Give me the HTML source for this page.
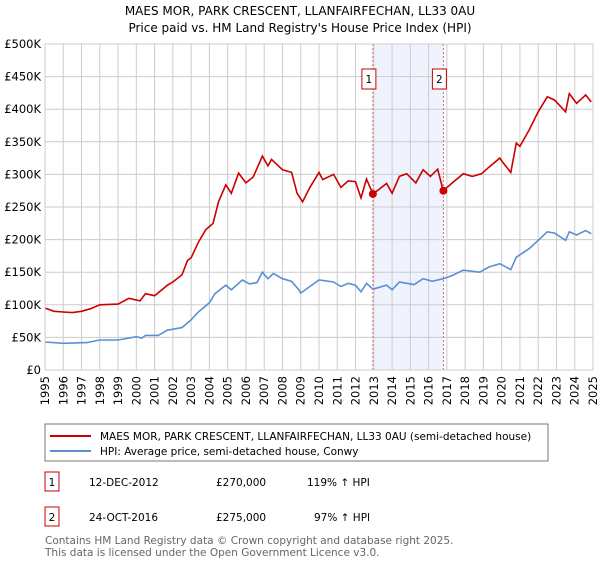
<!DOCTYPE html>
<html><head><meta charset="utf-8"><style>
body{margin:0;background:#fff;font-family:"Liberation Sans","DejaVu Sans",sans-serif;}
svg text{font-family:"DejaVu Sans","Liberation Sans",sans-serif;}
</style></head><body>
<svg id="c" width="600" height="560" xmlns="http://www.w3.org/2000/svg">
<text x="300" y="15" text-anchor="middle" font-size="12">MAES MOR, PARK CRESCENT, LLANFAIRFECHAN, LL33 0AU</text>
<text x="300" y="32" text-anchor="middle" font-size="12">Price paid vs. HM Land Registry's House Price Index (HPI)</text>
<g id="grid"></g><g id="marks"></g>
<rect x="45" y="424" width="503" height="37" fill="#fff" stroke="#777"/>
<line x1="50" y1="436" x2="91" y2="436" stroke="#cc0000" stroke-width="2"/>
<text x="100" y="440" font-size="10.5">MAES MOR, PARK CRESCENT, LLANFAIRFECHAN, LL33 0AU (semi-detached house)</text>
<line x1="50" y1="451" x2="91" y2="451" stroke="#5b8fd4" stroke-width="2"/>
<text x="100" y="455" font-size="10.5">HPI: Average price, semi-detached house, Conwy</text>
<g font-size="10.5">
<rect x="45" y="472" width="14" height="19" fill="#fff" stroke="#cc0000"/>
<text x="52" y="486" text-anchor="middle">1</text>
<text x="89" y="486">12-DEC-2012</text><text x="216" y="486">£270,000</text><text x="307" y="486">119% ↑ HPI</text>
<rect x="45" y="507" width="14" height="19" fill="#fff" stroke="#cc0000"/>
<text x="52" y="521" text-anchor="middle">2</text>
<text x="89" y="521">24-OCT-2016</text><text x="216" y="521">£275,000</text><text x="314" y="521">97% ↑ HPI</text>
</g>
<text x="45" y="544" font-size="10.5" fill="#666">Contains HM Land Registry data © Crown copyright and database right 2025.</text>
<text x="45" y="556" font-size="10.5" fill="#666">This data is licensed under the Open Government Licence v3.0.</text>
</svg>
<script>
const yTicks=[0,50,100,150,200,250,300,350,400,450,500];
const yLabels=["£0","£50K","£100K","£150K","£200K","£250K","£300K","£350K","£400K","£450K","£500K"];
const years=[1995,1996,1997,1998,1999,2000,2001,2002,2003,2004,2005,2006,2007,2008,2009,2010,2011,2012,2013,2014,2015,2016,2017,2018,2019,2020,2021,2022,2023,2024,2025];
const redT=[1995,1995.5,1996,1996.5,1997,1997.5,1998,1999,1999.6,2000.2,2000.5,2001,2001.7,2002,2002.5,2002.8,2003,2003.4,2003.8,2004.2,2004.5,2004.9,2005.2,2005.6,2006,2006.4,2006.9,2007.2,2007.4,2008,2008.5,2008.8,2009.1,2009.5,2010,2010.2,2010.8,2011.2,2011.6,2012,2012.3,2012.6,2012.95,2013.7,2014,2014.4,2014.8,2015.3,2015.7,2016.1,2016.5,2016.8,2017.3,2017.9,2018.4,2018.9,2019.3,2019.9,2020.1,2020.5,2020.8,2021,2021.5,2022,2022.5,2022.9,2023.5,2023.7,2024.1,2024.6,2024.9];
const redV=[95,90,89,88,90,94,100,101,110,106,117,114,130,135,146,168,172,196,215,225,258,284,271,302,287,296,328,313,323,307,303,271,258,280,303,292,300,280,290,289,264,293,270,286,271,297,301,287,307,297,308,275,287,301,297,301,311,325,317,303,348,343,368,396,419,414,396,424,409,422,411];
const blueT=[1995,1996,1997.3,1998,1999,2000,2000.3,2000.5,2001.2,2001.7,2002.5,2003,2003.4,2004,2004.3,2004.9,2005.2,2005.8,2006.2,2006.6,2006.9,2007.2,2007.5,2008,2008.5,2008.9,2009,2009.5,2010,2010.8,2011.2,2011.6,2012,2012.3,2012.6,2012.95,2013.7,2014,2014.4,2015.2,2015.7,2016.2,2016.8,2017.3,2017.9,2018.8,2019.3,2019.9,2020.5,2020.8,2021.5,2022,2022.5,2022.9,2023.5,2023.7,2024.1,2024.6,2024.9];
const blueV=[43,41,42,46,46,51,49,53,53,61,65,77,89,103,117,130,123,138,132,134,150,140,148,140,136,123,118,128,138,135,128,133,130,120,133,124,130,123,135,131,140,136,140,145,153,150,158,163,154,173,186,199,212,210,199,212,207,214,209];
const saleT=[2012.95,2016.81];
const saleV=[270,275];
const saleLabels=["1","2"];
const X0=45,X1=593,Y0=370,Y1=44;
const xs=t=>X0+(t-1995)/(2025-1995)*(X1-X0);
const ys=v=>Y0-v/500*(Y0-Y1);
const NS="http://www.w3.org/2000/svg";
const grid=document.getElementById('grid'),marks=document.getElementById('marks');
function mk(p,tag,a){const e=document.createElementNS(NS,tag);for(const k in a)e.setAttribute(k,a[k]);p.appendChild(e);return e;}
const sh=mk(grid,'rect',{x:xs(saleT[0]),y:Y1,width:xs(saleT[1])-xs(saleT[0]),height:Y0-Y1,fill:'#eef3fd'});


yTicks.forEach((v,i)=>{
 const l=mk(grid,'line',{x1:X0,x2:X1,y1:ys(v),y2:ys(v),stroke:'#ccc'});
 
 
 const t=mk(grid,'text',{x:X0-4,y:ys(v)+4,'text-anchor':'end','font-size':'11.5'});
 t.textContent=yLabels[i];
 
 
});
years.forEach(y=>{
 const l=mk(grid,'line',{x1:xs(y),x2:xs(y),y1:Y1,y2:Y0,stroke:'#ccc'});
 
 
 const t=mk(grid,'text',{x:0,y:0,'font-size':'11.5','text-anchor':'end',transform:`translate(${xs(y)+4},${Y0+6}) rotate(-90)`});
 t.textContent=y;
 
 
});
function line(T,V,c,n){const d=T.map((t,i)=>(i?'L':'M')+xs(t).toFixed(1)+','+ys(V[i]).toFixed(1)).join('');
 const p=mk(marks,'path',{d:d,fill:'none',stroke:c,'stroke-width':1.6});
 
 }
line(blueT,blueV,'#5b8fd4','hpi-line');
line(redT,redV,'#cc0000','property-price-line');
saleT.forEach((t,i)=>{
 const l=mk(marks,'line',{x1:xs(t),x2:xs(t),y1:Y1,y2:Y0,stroke:'#e06666','stroke-dasharray':'2,2'});
 
 
 const c=mk(marks,'circle',{cx:xs(t),cy:ys(saleV[i]),r:4,fill:'#cc0000'});
 
 
 const b=mk(marks,'rect',{x:xs(t)-11,y:69,width:14,height:20,fill:'#fff',stroke:'#cc0000'});
 
 
 const tx=mk(marks,'text',{x:xs(t)-4,y:83,'font-size':'10.5','text-anchor':'middle'});
 tx.textContent=saleLabels[i];
 
 
});
const fr=mk(marks,'rect',{x:X0,y:Y1,width:X1-X0,height:Y0-Y1,fill:'none',stroke:'#ccc'});


</script>
</body></html>
